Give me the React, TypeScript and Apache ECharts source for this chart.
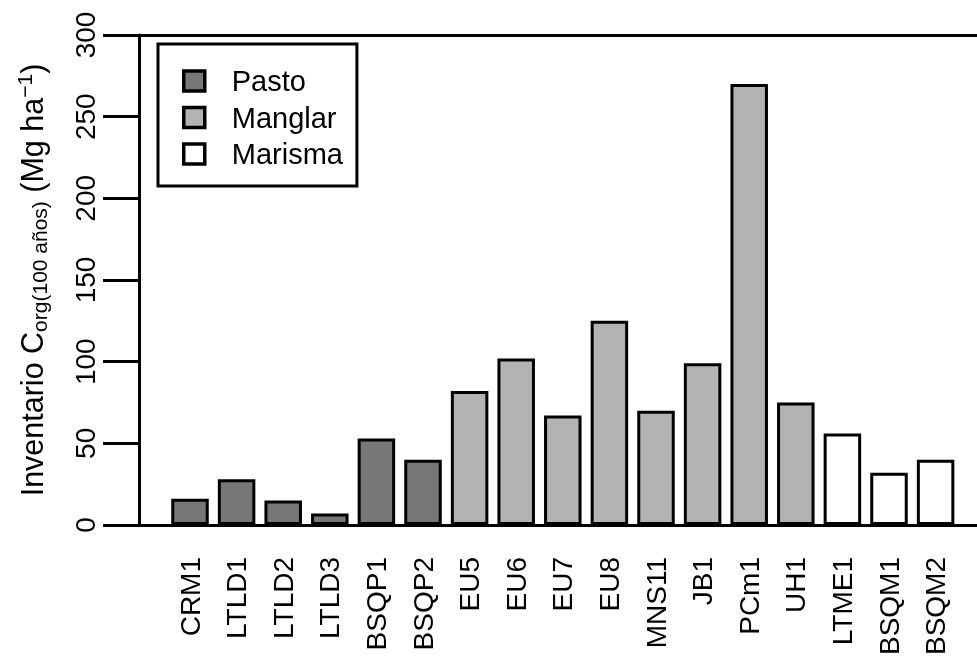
import React, { useEffect, useRef } from "react";
import * as echarts from "echarts";

const categories = ["CRM1", "LTLD1", "LTLD2", "LTLD3", "BSQP1", "BSQP2", "EU5", "EU6", "EU7", "EU8", "MNS11", "JB1", "PCm1", "UH1", "LTME1", "BSQM1", "BSQM2"];
const values = [16, 28, 15, 7, 53, 40, 82, 102, 67, 125, 70, 99, 270, 75, 56, 32, 40];
const groups = ["Pasto", "Pasto", "Pasto", "Pasto", "Pasto", "Pasto", "Manglar", "Manglar", "Manglar", "Manglar", "Manglar", "Manglar", "Manglar", "Manglar", "Marisma", "Marisma", "Marisma"];
const seriesNames = ["Pasto", "Manglar", "Marisma"];
const seriesColors = ["#777777", "#b3b3b3", "#ffffff"];
const yTicks = [0, 50, 100, 150, 200, 250, 300];

const FONT = "'Liberation Sans', Arial, sans-serif";

export default function App() {
  const ref = useRef<HTMLDivElement>(null);
  useEffect(() => {
    if (!ref.current) return;
    const chart = echarts.init(ref.current, null, { renderer: "svg" });
    const series = seriesNames.map((name, si) => ({
      name,
      type: "bar",
      stack: "all",
      xAxisIndex: 0,
      yAxisIndex: 0,
      barWidth: 37.5,
      itemStyle: { color: seriesColors[si], borderColor: "#000", borderWidth: 3 },
      data: values.map((v, i) => (groups[i] === name ? v : "-")),
    }));
    chart.setOption({
      animation: false,
      textStyle: { fontFamily: FONT },
      legend: {
        data: seriesNames,
        orient: "vertical",
        left: 158,
        top: 44,
        borderColor: "#000",
        borderWidth: 3,
        padding: [22, 14, 17, 24],
        itemWidth: 21,
        itemHeight: 20,
        itemGap: 6.5,
        icon: "rect",
        itemStyle: { borderColor: "#000", borderWidth: 3.5 },
        textStyle: { fontSize: 29, color: "#000", fontFamily: FONT, padding: [0, 0, 0, 22], lineHeight: 30 },
      },
      grid: [
        { left: 166.7, right: 18.1, top: 35, bottom: 135 },
        { left: 139, right: 0, top: 35, bottom: 135 },
      ],
      xAxis: [
        {
          type: "category",
          gridIndex: 0,
          data: categories,
          boundaryGap: true,
          axisLine: { show: false },
          axisTick: { show: false },
          axisLabel: { interval: 0, rotate: 90, margin: 32, fontSize: 28, color: "#000", fontFamily: FONT },
        },
        {
          type: "value",
          gridIndex: 1,
          position: "bottom",
          min: 0,
          max: 1,
          axisLine: { show: true, lineStyle: { color: "#000", width: 3 } },
          axisTick: { show: false },
          axisLabel: { show: false },
          splitLine: { show: false },
        },
        {
          type: "value",
          gridIndex: 1,
          position: "top",
          min: 0,
          max: 1,
          axisLine: { show: true, lineStyle: { color: "#000", width: 3 } },
          axisTick: { show: false },
          axisLabel: { show: false },
          splitLine: { show: false },
        },
      ],
      yAxis: [
        { type: "value", gridIndex: 0, min: 0, max: 300, show: false },
        {
          type: "value",
          gridIndex: 1,
          min: yTicks[0],
          max: yTicks[yTicks.length - 1],
          interval: 50,
          axisLine: { show: true, lineStyle: { color: "#000", width: 3 } },
          axisTick: { show: true, length: 36, lineStyle: { color: "#000", width: 3 } },
          axisLabel: { rotate: 90, margin: 40, fontSize: 28, color: "#000", fontFamily: FONT },
          splitLine: { show: false },
          name: "{a|Inventario C}{sub|org(100 años)}{a| (Mg ha}{sup|−1}{a|)}",
          nameLocation: "middle",
          nameRotate: 90,
          nameGap: 89,
          nameTextStyle: {
            color: "#000",
            fontFamily: FONT,
            rich: {
              a: { fontSize: 30.5, color: "#000", fontFamily: FONT },
              sub: { fontSize: 21, color: "#000", fontFamily: FONT, padding: [15, 0, 0, 0] },
              sup: { fontSize: 21, color: "#000", fontFamily: FONT, padding: [0, 0, 15, 0] },
            },
          },
        },
      ],
      series,
    });
    return () => chart.dispose();
  }, []);
  return <div ref={ref} style={{ position: "fixed", left: 0, top: 0, width: 977, height: 660 }} />;
}
